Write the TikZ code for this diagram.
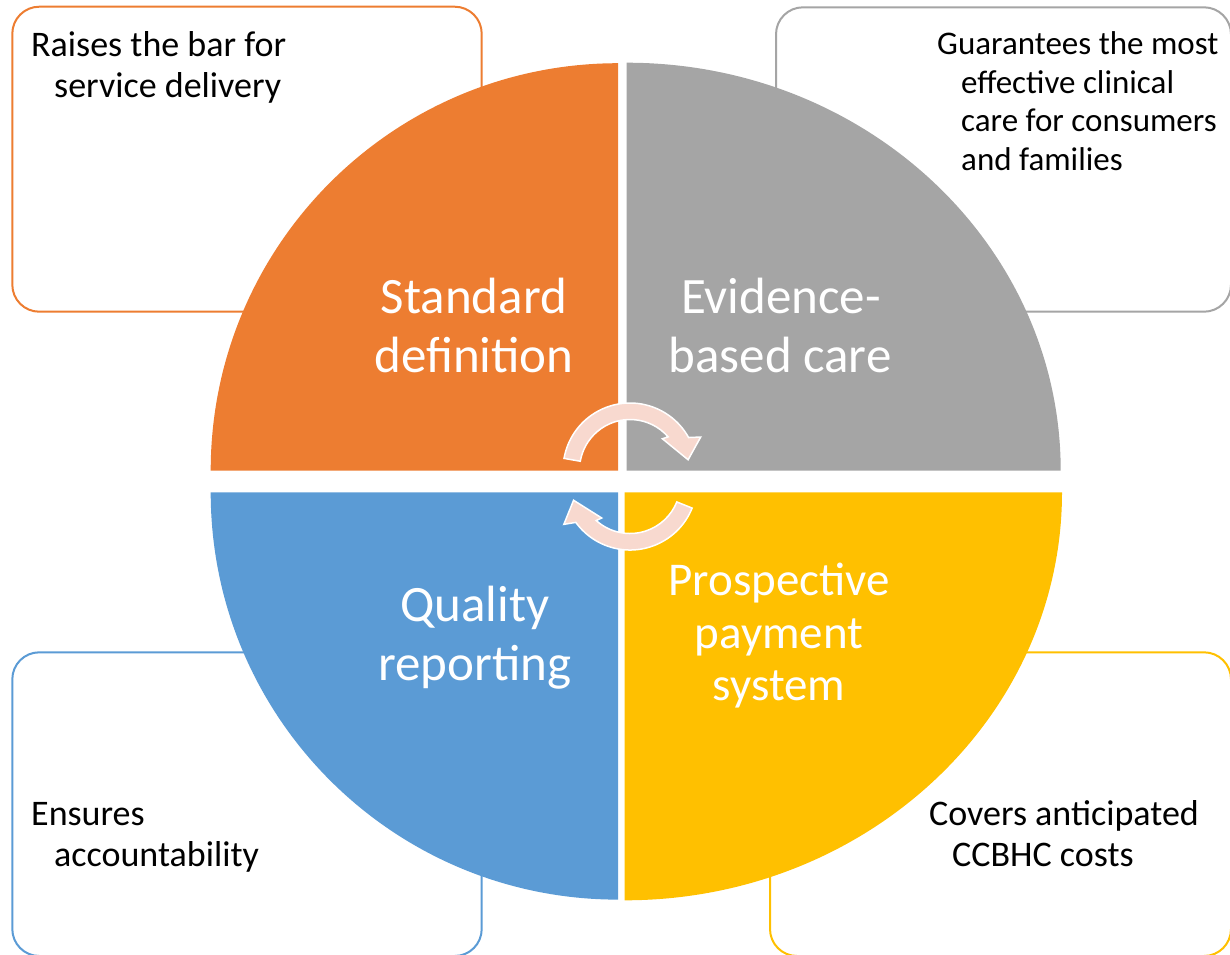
\documentclass[tikz,border=0pt]{standalone}
\usepackage{fontspec}
\setmainfont{Carlito}
\definecolor{qorange}{HTML}{ED7D31}
\definecolor{qgray}{HTML}{A5A5A5}
\definecolor{qblue}{HTML}{5B9BD5}
\definecolor{qyellow}{HTML}{FFC000}
\definecolor{arrowpink}{HTML}{F8D9CF}
\begin{document}
\begin{tikzpicture}[x=1pt,y=-1pt,
  notebox/.style={line width=2pt, rounded corners=27pt, fill=white},
  quadlabel/.style={text=white, font=\fontsize{51}{59}\selectfont, anchor=base, inner sep=0pt},
  notetext/.style={text=black, font=\fontsize{36}{41}\selectfont, anchor=base west, inner sep=0pt},
  cyclearrow/.style={fill=arrowpink, draw=white, line width=1.5pt, line join=miter}]
\useasboundingbox (0,0) rectangle (1230,954);

% side boxes
\draw[notebox, draw=qorange] (12.3,6.7) rectangle (481.7,311.7);
\draw[notebox, draw=qgray]   (776,7.3) rectangle (1231,311.7);
\draw[notebox, draw=qblue]   (12.3,652.3) rectangle (481.7,956);
\draw[notebox, draw=qyellow] (770,652.3) rectangle (1231,956);

% quadrants
\fill[qorange] (618,470.7) -- (210.7,470.7) arc[start angle=180, end angle=270, radius=407.5] -- cycle;
\fill[qgray] (626.7,470.7) -- (626.7,62.7) arc[start angle=270, end angle=360, x radius=434, y radius=408] -- cycle;
\fill[qblue] (618,492.3) -- (210.7,492.3) arc[start angle=180, end angle=90, radius=407.3] -- cycle;
\fill[qyellow] (624.5,492.3) -- (1062,492.3) arc[start angle=0, end angle=90, x radius=437.5, y radius=408] -- cycle;

% circular arrows
\begin{scope}[shift={(630,470)}]
\draw[cyclearrow] (-170:67) arc[start angle=-170, end angle=-29, radius=67]
  -- (-25:78) -- (-10:59) -- (-44:45) -- (-41:50.5)
  arc[start angle=-41, end angle=-170, radius=50.5] -- cycle;
\end{scope}
\begin{scope}[shift={(630,483)}]
\draw[cyclearrow] (22:67) arc[start angle=22, end angle=144, radius=67]
  -- (148:78) -- (163:59) -- (129:45) -- (132:50.5)
  arc[start angle=132, end angle=22, radius=50.5] -- cycle;
\end{scope}

% quadrant labels
\node[quadlabel] (sd1) at (474,313) {Standard};
\node[quadlabel] (sd2) at (474,372) {definition};
\node[quadlabel] (eb1) at (781,313) {Evidence-};
\node[quadlabel] (eb2) at (780,372) {based care};
\node[quadlabel] (qr1) at (475,621) {Quality};
\node[quadlabel] (qr2) at (475,680) {reporting};
\node[quadlabel, font=\fontsize{47}{53}\selectfont] (pp1) at (779,595) {Prospective};
\node[quadlabel, font=\fontsize{47}{53}\selectfont] (pp2) at (779,648) {payment};
\node[quadlabel, font=\fontsize{47}{53}\selectfont] (pp3) at (779,700) {system};

% side texts
\node[notetext] (tl1) at (31,56.7) {Raises the bar for};
\node[notetext] (tl2) at (54,97.7) {service delivery};
\node[notetext, font=\fontsize{33}{38}\selectfont] (tr1) at (937,54.5) {Guarantees the most};
\node[notetext, font=\fontsize{33}{38}\selectfont] (tr2) at (961,93) {effective clinical};
\node[notetext, font=\fontsize{33}{38}\selectfont] (tr3) at (961,131.5) {care for consumers};
\node[notetext, font=\fontsize{33}{38}\selectfont] (tr4) at (961,170) {and families};
\node[notetext] (bl1) at (31,825) {Ensures};
\node[notetext] (bl2) at (54,866) {accountability};
\node[notetext] (br1) at (929,825) {Covers anticipated};
\node[notetext] (br2) at (952,866) {CCBHC costs};
\end{tikzpicture}
\end{document}
